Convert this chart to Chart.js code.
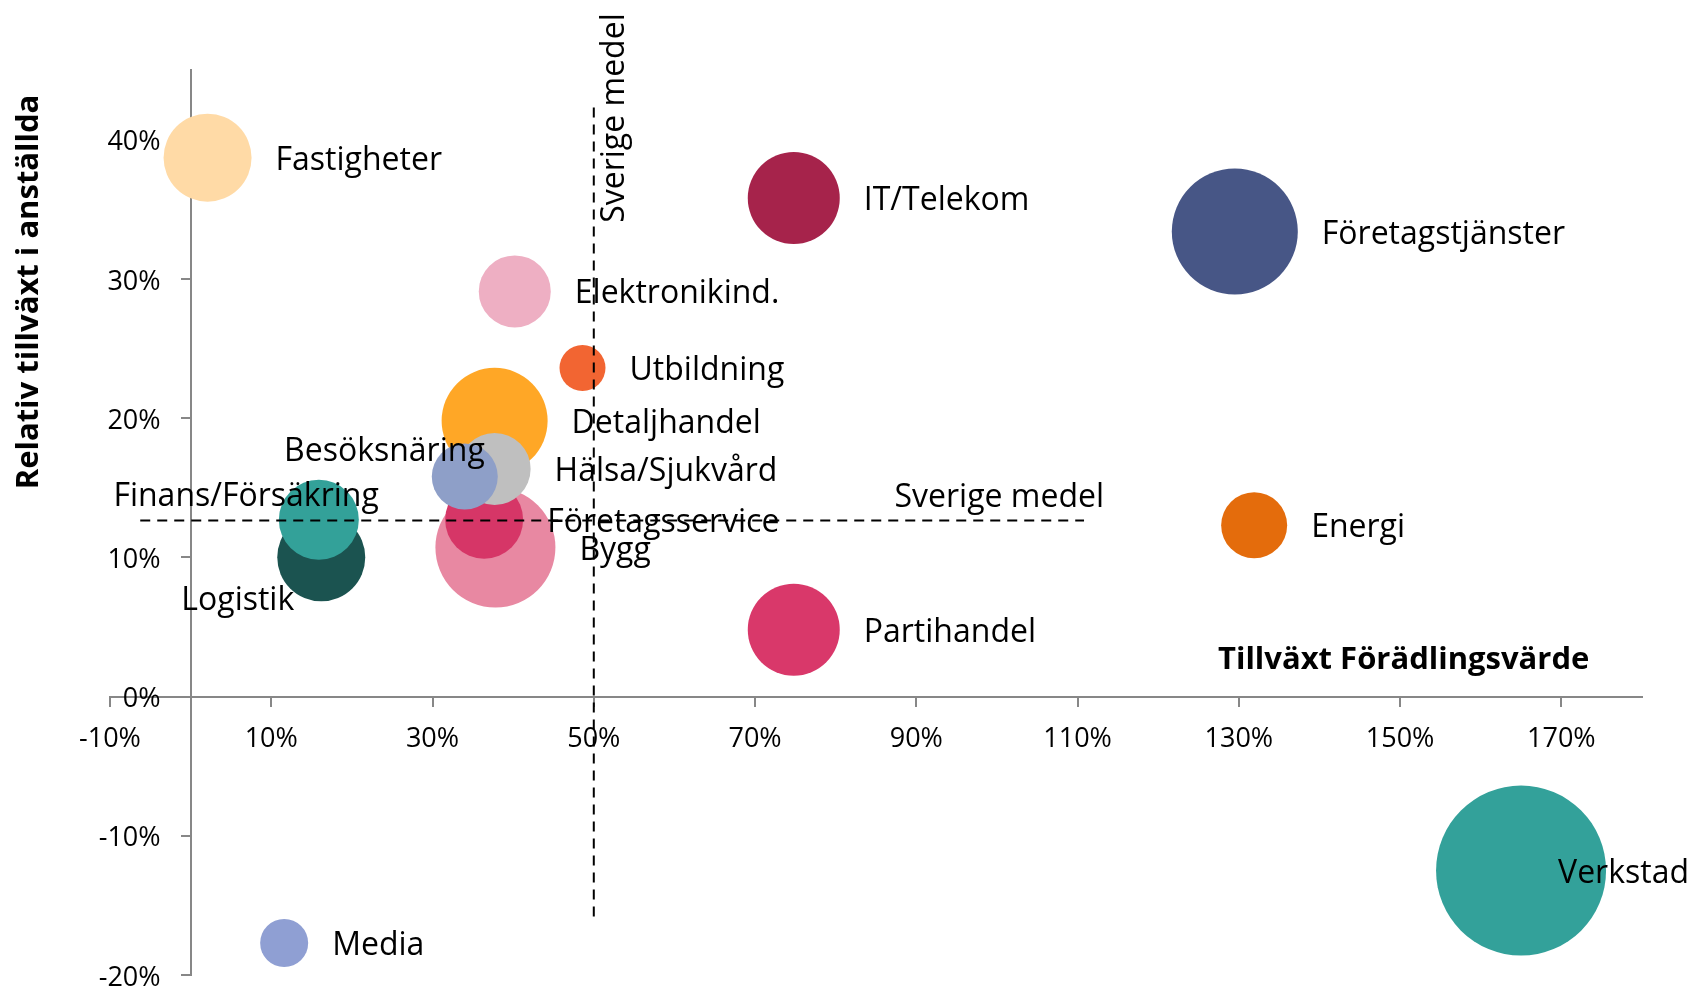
<!DOCTYPE html>
<html>
<head>
<meta charset="utf-8">
<script src="https://cdn.jsdelivr.net/npm/chart.js@4.4.1/dist/chart.umd.min.js"></script>
<style>
  html, body { margin: 0; padding: 0; background: #fff; }
  #wrap { width: 1693px; height: 989px; position: relative; }
</style>
</head>
<body>
<div id="wrap"><canvas id="bubbleChart"></canvas></div>
<script>
// order matters: later bubbles are drawn on top
const sectors = [
    `Fastigheter`, `IT/Telekom`, `Företagstjänster`, `Elektronikind.`, `Utbildning`,
    `Bygg`, `Företagsservice`, `Detaljhandel`, `Hälsa/Sjukvård`, `Besöksnäring`,
    `Logistik`, `Finans/Försäkring`, `Energi`, `Partihandel`, `Verkstad`, `Media`
];
// Tillväxt förädlingsvärde (%)
const valueAddedGrowth = [2.1, 74.8, 129.5, 40.2, 48.6, 37.8, 36.4, 37.7, 37.7, 34.0, 16.2, 15.9, 131.9, 74.8, 165.0, 11.6];
// Relativ tillväxt i anställda (%)
const employeeGrowth = [38.7, 35.8, 33.4, 29.1, 23.6, 10.7, 12.7, 19.8, 16.35, 15.8, 10.0, 12.7, 12.3, 4.8, -12.5, -17.7];
// bubble size (radius, px)
const bubbleSize = [44, 46, 63, 36, 23, 60, 39, 53, 36, 33, 44, 40, 33, 46, 85, 24];
const bubbleColors = [
    `#FFDAA6`, `#A6234B`, `#475686`, `#EEAFC3`, `#F26532`,
    `#E888A2`, `#D63667`, `#FFA726`, `#BFBFBF`, `#8E9FC8`,
    `#1B5350`, `#33A199`, `#E46C0C`, `#D9386A`, `#33A19A`, `#8F9FD3`
];

const xTickValues = [-10, 10, 30, 50, 70, 90, 110, 130, 150, 170];
const yTickValues = [-20, -10, 0, 10, 20, 30, 40];

// Sverige medel
const swedenAvgX = 50;
const swedenAvgY = 12.65;
const avgXLineSpan = [-15.8, 42.5];
const avgYLineSpan = [-6.25, 110.8];

const labelFont = `32px "Open Sans"`;
const titleFont = `bold 31px "Open Sans"`;
const yLabelGap = 30;
const labelDrop = 3;

// labels that Excel did not put to the right of the bubble
const labelNudge = {
    [`Besöksnäring`]: { align: `right`, dx: 20, dy: -28 },
    [`Finans/Försäkring`]: { align: `right`, dx: 60, dy: -26 },
    [`Logistik`]: { align: `right`, dx: -27, dy: 41 },
    [`Verkstad`]: { align: `left`, dx: 37, dy: 0 }
};

const labelPlugin = {
    id: `bubbleLabels`,
    beforeDraw(chart) {
        // y axis sits at x = 0, so move its tick labels off the axis line
        const items = chart.scales.y.getLabelItems(chart.chartArea);
        if (items && !items.shifted) {
            items.forEach(item => {
                item.options.translation[0] -= yLabelGap;
                item.options.translation[1] += labelDrop;
            });
            items.shifted = true;
        }
    },
    afterDatasetsDraw(chart) {
        const ctx = chart.ctx;
        const xScale = chart.scales.x;
        const yScale = chart.scales.y;
        const meta = chart.getDatasetMeta(0);

        ctx.save();
        ctx.fillStyle = `#000`;
        ctx.font = labelFont;
        ctx.textBaseline = `middle`;
        meta.data.forEach((point, i) => {
            const name = sectors[i];
            const nudge = labelNudge[name];
            if (nudge) {
                ctx.textAlign = nudge.align;
                ctx.fillText(name, point.x + nudge.dx, point.y + nudge.dy + labelDrop);
            } else {
                ctx.textAlign = `left`;
                ctx.fillText(name, point.x + bubbleSize[i] + 24, point.y + labelDrop);
            }
        });

        // reference line labels
        ctx.textBaseline = `alphabetic`;
        ctx.textAlign = `right`;
        ctx.fillText(`Sverige medel`, xScale.getPixelForValue(avgYLineSpan[1]) + 20, yScale.getPixelForValue(swedenAvgY) - 13);

        ctx.save();
        ctx.translate(xScale.getPixelForValue(swedenAvgX) + 30, yScale.getPixelForValue(avgXLineSpan[1]) + 118);
        ctx.rotate(-Math.PI / 2);
        ctx.textAlign = `left`;
        ctx.fillText(`Sverige medel`, 0, 0);
        ctx.restore();

        // axis titles
        ctx.font = titleFont;
        ctx.textAlign = `left`;
        ctx.fillText(`Tillväxt Förädlingsvärde`, 1218, 669);

        ctx.translate(29, 292);
        ctx.rotate(-Math.PI / 2);
        ctx.textAlign = `center`;
        ctx.textBaseline = `middle`;
        ctx.fillText(`Relativ tillväxt i anställda`, 0, 0);
        ctx.restore();
    }
};

const bubblePoints = sectors.map((s, i) => ({ x: valueAddedGrowth[i], y: employeeGrowth[i], r: bubbleSize[i] }));

const axisGrey = `#878787`;
const tickFont = { family: `"Open Sans"`, size: 27 };

const ctx = document.getElementById(`bubbleChart`).getContext(`2d`);
const chart = new Chart(ctx, {
    type: `bubble`,
    data: {
        datasets: [{
            label: `Branscher`,
            data: bubblePoints,
            backgroundColor: bubbleColors,
            borderWidth: 0,
            hoverBorderWidth: 0,
            order: 2
        }, {
            type: `line`,
            label: `Sverige medel (förädlingsvärde)`,
            data: [{ x: swedenAvgX, y: avgXLineSpan[0] }, { x: swedenAvgX, y: avgXLineSpan[1] }],
            borderColor: `#000`,
            borderWidth: 2,
            borderDash: [10, 7],
            pointRadius: 0,
            fill: false,
            order: 1
        }, {
            type: `line`,
            label: `Sverige medel (anställda)`,
            data: [{ x: avgYLineSpan[0], y: swedenAvgY }, { x: avgYLineSpan[1], y: swedenAvgY }],
            borderColor: `#000`,
            borderWidth: 2,
            borderDash: [10, 7],
            pointRadius: 0,
            fill: false,
            order: 1
        }]
    },
    options: {
        responsive: true,
        maintainAspectRatio: false,
        animation: false,
        layout: { autoPadding: false, padding: { left: 110, right: 51, top: 70, bottom: 14 } },
        plugins: {
            legend: { display: false },
            tooltip: { enabled: false }
        },
        scales: {
            x: {
                type: `linear`,
                min: -10,
                max: 180,
                position: { y: 0 },
                afterBuildTicks: scale => { scale.ticks = xTickValues.map(v => ({ value: v })); },
                afterFit: scale => { scale.height = 0; scale.paddingLeft = 0; scale.paddingRight = 0; },
                grid: { drawOnChartArea: false, drawTicks: true, tickLength: 9, color: axisGrey, lineWidth: 2 },
                border: { display: true, color: axisGrey, width: 2 },
                ticks: { color: `#000`, font: tickFont, padding: 18, maxRotation: 0, callback: v => `${v}%` }
            },
            y: {
                type: `linear`,
                min: -20,
                max: 45,
                position: { x: 0 },
                afterBuildTicks: scale => { scale.ticks = yTickValues.map(v => ({ value: v })); },
                afterFit: scale => { scale.width = 0; scale.paddingTop = 0; scale.paddingBottom = 0; },
                grid: { drawOnChartArea: false, drawTicks: true, tickLength: 9, color: axisGrey, lineWidth: 2 },
                border: { display: true, color: axisGrey, width: 2 },
                ticks: { color: `#000`, font: tickFont, padding: 21, callback: v => `${v}%` }
            }
        }
    },
    plugins: [labelPlugin]
});
</script>
</body>
</html>
